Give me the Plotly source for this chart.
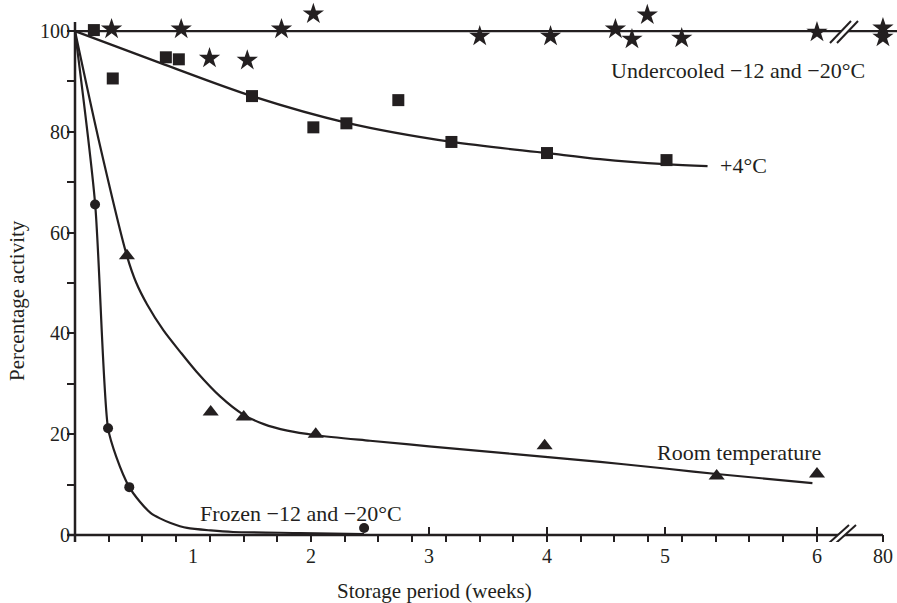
import numpy as np
import plotly.graph_objects as go

INK = "#231f20"
FONT = "Liberation Serif"

# ---------------- data (storage weeks, % activity) ----------------
undercooled_weeks = [0.31, 0.90, 1.14, 1.46, 1.75, 2.02, 3.43, 4.03, 4.58, 4.72, 4.85, 5.11, 6.0, 80, 80]
undercooled_pct = [100.4, 100.4, 94.6, 94.2, 100.4, 103.4, 99.0, 99.0, 100.4, 98.4, 103.2, 98.6, 99.8, 100.6, 98.8]
undercooled_fit_weeks = [0, 81]
undercooled_fit_pct = [100, 100]

plus4_weeks = [0.16, 0.32, 0.77, 0.88, 1.50, 2.02, 2.30, 2.74, 3.19, 4.00, 5.01]
plus4_pct = [100.2, 90.6, 94.8, 94.4, 87.1, 80.9, 81.7, 86.3, 78.0, 75.8, 74.4]
plus4_fit_weeks = [0, 0.72, 1.5, 2.305, 3.195, 4.0, 4.45, 5.0, 5.28]
plus4_fit_pct = [100, 93.7, 87.1, 81.8, 78.0, 75.8, 74.6, 73.6, 73.2]

room_weeks = [0.44, 1.15, 1.43, 2.04, 3.98, 5.34, 6.0]
room_pct = [55.4, 24.4, 23.4, 20.0, 17.7, 11.7, 12.1]
room_fit_weeks = [0, 0.2, 0.44, 0.52, 0.61, 0.75, 0.89, 1.03, 1.23, 1.42, 1.6, 1.8, 2.04, 2.5, 3.0, 4.45, 5.0, 5.34, 5.97]
room_fit_pct = [100, 78.5, 55.4, 50.0, 45.8, 40.6, 36.4, 32.4, 27.5, 24.0, 22.0, 20.7, 19.8, 18.7, 17.6, 14.5, 13.2, 12.1, 10.3]

frozen_weeks = [0.17, 0.28, 0.46, 2.45]
frozen_pct = [65.6, 21.2, 9.5, 1.4]
frozen_fit_weeks = [0, 0.17, 0.28, 0.35, 0.46, 0.55, 0.64, 0.72, 0.81, 0.95, 1.15, 1.34, 1.91, 2.45]
frozen_fit_pct = [100, 65.9, 21.2, 15.5, 9.5, 6.6, 4.4, 3.3, 2.4, 1.4, 0.9, 0.6, 0.4, 0.2]

tick_weeks = [1, 2, 3, 4, 5, 6, 80]
tick_text = ["1", "2", "3", "4", "5", "6", "80"]
y_ticks = [0, 20, 40, 60, 80, 100]
y_minor_ticks = [10, 30, 50, 70, 90]

# ---------------- broken x scale (weeks -> axis units) ----------------
U5, U6, U80 = 5.0, 6.288, 6.847


def to_axis(weeks):
    w = np.asarray(weeks, float)
    return np.select(
        [w <= 5, w <= 6, w <= 80],
        [w, U5 + (w - 5) * (U6 - U5), U6 + (w - 6) * (U80 - U6) / 74.0],
        U80 + (w - 80),
    )


W, H = 897, 603
PLOT_TOP = 10
PLOT_BOTTOM = 542
PLOT_LEFT = 67
PX_PER_U = 118.0
PX_PER_V = 5.039


def pu(px):
    return (px - 75) / PX_PER_U


def pv(py):
    return (535 - py) / PX_PER_V


X_RANGE = [pu(PLOT_LEFT), pu(W)]
Y_RANGE = [pv(PLOT_BOTTOM), pv(PLOT_TOP)]
PW = W - PLOT_LEFT
PH = PLOT_BOTTOM - PLOT_TOP

fig = go.Figure()

LW = 2.2


def add_fit(xw, yv, smooth=1.0):
    fig.add_trace(go.Scatter(
        x=to_axis(xw), y=yv, mode="lines",
        line=dict(color=INK, width=LW, shape="spline", smoothing=smooth),
        hoverinfo="skip"))


def add_pts(xw, yv, symbol, size):
    fig.add_trace(go.Scatter(
        x=to_axis(xw), y=yv, mode="markers", cliponaxis=False,
        marker=dict(symbol=symbol, size=size, color=INK, line=dict(width=0))))


add_fit(undercooled_fit_weeks, undercooled_fit_pct)
add_fit(plus4_fit_weeks, plus4_fit_pct, 0.9)
add_fit(room_fit_weeks, room_fit_pct, 0.8)
add_fit(frozen_fit_weeks, frozen_fit_pct, 0.7)

add_pts(undercooled_weeks, undercooled_pct, "star", 16)
add_pts(plus4_weeks, plus4_pct, "square", 12)
add_pts(room_weeks, room_pct, "triangle-up", 14)
add_pts(frozen_weeks, frozen_pct, "circle", 10)

shapes = []
# axis lines
shapes.append(dict(type="line", x0=0, x1=0, y0=Y_RANGE[0], y1=pv(22),
                   line=dict(color=INK, width=2.5)))
shapes.append(dict(type="line", x0=X_RANGE[0], x1=U80, y0=0, y1=0,
                   line=dict(color=INK, width=2.5)))
# major cross ticks above the axis at 3,4,5,6
for w in [3, 4, 5, 6]:
    u = float(to_axis([w])[0])
    shapes.append(dict(type="line", x0=u, x1=u, y0=0, y1=pv(527),
                       line=dict(color=INK, width=2)))


def add_break(x_a0, y_a0, x_a1, y_a1, gap):
    # white-out between two slashes, then the slashes
    path = "M {} {} L {} {} L {} {} L {} {} Z".format(
        pu(x_a0), pv(y_a0), pu(x_a1), pv(y_a1),
        pu(x_a1 + gap), pv(y_a1), pu(x_a0 + gap), pv(y_a0))
    shapes.append(dict(type="path", path=path, fillcolor="white",
                       line=dict(width=0), layer="above"))
    for g in (0, gap):
        shapes.append(dict(type="line", x0=pu(x_a0 + g), y0=pv(y_a0),
                           x1=pu(x_a1 + g), y1=pv(y_a1),
                           line=dict(color=INK, width=2), layer="above"))


add_break(829, 543, 849, 525, 7)
add_break(830, 43, 851, 21, 7)

ann_font = dict(family=FONT, size=22, color=INK)
annotations = [
    dict(x=pu(609), y=pv(70), text="Undercooled \u221212 and \u221220°C"),
    dict(x=pu(718), y=pv(165), text="+4°C"),
    dict(x=pu(655), y=pv(452), text="Room temperature"),
    dict(x=pu(198), y=pv(513), text="Frozen \u221212 and \u221220°C"),
]
for a in annotations:
    a.update(xref="x", yref="y", showarrow=False, xanchor="left",
             yanchor="middle", font=ann_font)

annotations.append(dict(
    xref="paper", yref="paper", x=(434 - PLOT_LEFT) / PW,
    y=(PLOT_BOTTOM - 591) / PH,
    text="Storage period (weeks)", showarrow=False, xanchor="center",
    yanchor="middle", font=dict(family=FONT, size=21, color=INK)))
annotations.append(dict(
    xref="paper", yref="paper", x=(17 - PLOT_LEFT) / PW,
    y=(PLOT_BOTTOM - 301) / PH,
    text="Percentage activity", textangle=-90, showarrow=False,
    xanchor="center", yanchor="middle",
    font=dict(family=FONT, size=21, color=INK)))

minor_x = [k * 2 / 7 for k in range(1, 22)] + [U6, U80]

fig.update_layout(
    width=W, height=H,
    margin=dict(l=PLOT_LEFT, r=0, t=PLOT_TOP, b=H - PLOT_BOTTOM,
                autoexpand=False),
    paper_bgcolor="white", plot_bgcolor="white",
    showlegend=False,
    hovermode=False,
    font=dict(family=FONT, color=INK),
    shapes=shapes,
    annotations=annotations,
    xaxis=dict(
        range=X_RANGE, showgrid=False, zeroline=False, showline=False,
        tickmode="array", tickvals=list(to_axis(tick_weeks)), ticktext=tick_text,
        ticks="", tickfont=dict(family=FONT, size=20, color=INK),
        automargin=False, ticklabeloverflow="allow",
        minor=dict(tickmode="array", tickvals=minor_x, ticks="inside",
                   ticklen=7, tickwidth=2, tickcolor=INK, showgrid=False),
    ),
    yaxis=dict(
        range=Y_RANGE, showgrid=False, zeroline=False, showline=False,
        tickmode="array", tickvals=y_ticks, ticks="inside", ticklen=8,
        tickwidth=2, tickcolor=INK, ticklabelstandoff=-4, automargin=False,
        tickfont=dict(family=FONT, size=20, color=INK),
        minor=dict(tickmode="array", tickvals=y_minor_ticks, ticks="inside",
                   ticklen=8, tickwidth=2, tickcolor=INK, showgrid=False),
    ),
)

fig.write_html(
    "out.html",
    config={"displayModeBar": False},
    post_script="document.body.style.margin='0';document.body.style.overflow='hidden';",
)
